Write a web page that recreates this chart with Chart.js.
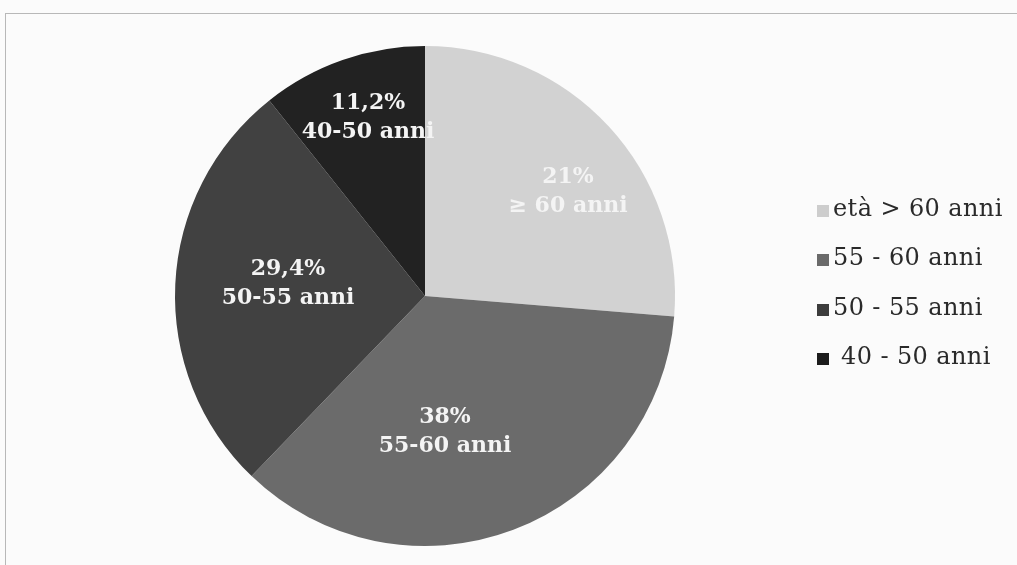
<!DOCTYPE html>
<html>
<head>
<meta charset="utf-8">
<script src="https://cdn.jsdelivr.net/npm/chart.js@4"></script>
<style>
  html, body { margin: 0; padding: 0; background: #fbfbfb; width: 1017px; height: 565px; overflow: hidden; }
  #frame { position: absolute; left: 5px; top: 13px; width: 1020px; height: 560px; border: 1px solid #b8b8b8; box-sizing: border-box; }
  #wrap { position: absolute; left: 0; top: 0; width: 1017px; height: 565px; }
  #legend { position: absolute; left: 817px; top: 194px; font-family: "DejaVu Serif", serif; font-size: 24px; letter-spacing: 0.4px; color: #2a2a2a; }
  #legend .row { height: 49.3px; display: flex; align-items: flex-start; white-space: pre; }
  #legend .sw { width: 12px; height: 12px; margin-top: 11px; margin-right: 4px; }
</style>
</head>
<body>
<div id="frame"></div>
<div id="wrap"><canvas id="c" width="1017" height="565"></canvas></div>
<div id="legend"></div>
<script>
const categories = ["età > 60 anni", "55 - 60 anni", "50 - 55 anni", " 40 - 50 anni"];
// slice sizes as drawn in the picture (percent of the circle)
const values = [26.3, 35.9, 27.1, 10.7];
const percentLabels = ["21%", "38%", "29,4%", "11,2%"];
const ageLabels = ["≥ 60 anni", "55-60 anni", "50-55 anni", "40-50 anni"];

const colors = ["#d2d2d2", "#6b6b6b", "#414141", "#222222"];
const legendColors = ["#cdcdcd", "#6a6a6a", "#3c3c3c", "#1c1c1c"];
// label centre offsets, as fractions of the pie radius from its centre
const labelOffsets = [[0.572, -0.416], [0.08, 0.544], [-0.548, -0.048], [-0.228, -0.712]];

const sliceLabels = {
  id: 'sliceLabels',
  afterDatasetsDraw(chart) {
    const ctx = chart.ctx;
    const meta = chart.getDatasetMeta(0);
    ctx.save();
    ctx.font = 'bold 22px "DejaVu Serif", serif';
    ctx.fillStyle = '#f4f4f4';
    ctx.textAlign = 'center';
    ctx.textBaseline = 'middle';
    meta.data.forEach((arc, i) => {
      const r = arc.outerRadius;
      const cx = arc.x + labelOffsets[i][0] * r;
      const cy = arc.y + labelOffsets[i][1] * r;
      ctx.fillText(percentLabels[i], cx, cy - 14.5);
      ctx.fillText(ageLabels[i], cx, cy + 14.5);
    });
    ctx.restore();
  }
};

new Chart(document.getElementById('c'), {
  type: 'pie',
  data: {
    labels: categories,
    datasets: [{
      data: values,
      backgroundColor: colors,
      borderWidth: 0
    }]
  },
  options: {
    responsive: false,
    animation: false,
    layout: { padding: { left: 175, right: 342, top: 46, bottom: 19 } },
    plugins: {
      legend: { display: false },
      tooltip: { enabled: false }
    }
  },
  plugins: [sliceLabels]
});

const leg = document.getElementById('legend');
categories.forEach((c, i) => {
  const row = document.createElement('div');
  row.className = 'row';
  const sw = document.createElement('div');
  sw.className = 'sw';
  sw.style.background = legendColors[i];
  const t = document.createElement('span');
  t.textContent = c;
  row.appendChild(sw);
  row.appendChild(t);
  leg.appendChild(row);
});
</script>
</body>
</html>
